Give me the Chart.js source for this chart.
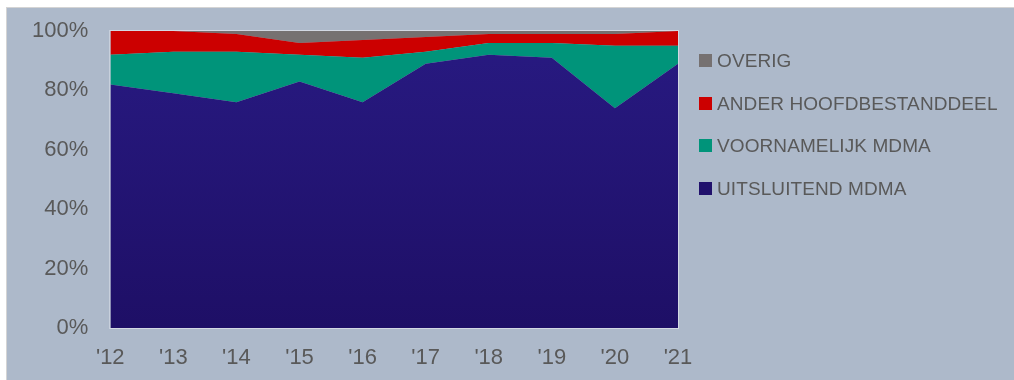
<!DOCTYPE html>
<html>
<head>
<meta charset="utf-8">
<script src="https://cdn.jsdelivr.net/npm/chart.js@4/dist/chart.umd.min.js"></script>
<style>
    body { margin: 0; background: #ffffff; font-family: 'Liberation Sans', Arial, sans-serif; }
    #bg {
        position: absolute; left: 6px; top: 7px; right: 0; bottom: 0;
        background: #adb9ca;
        border-top: 1px solid #d4d4d4;
        border-left: 1px solid #d4d4d4;
    }
    #chart { position: absolute; left: 0; top: 0; }
    #legend { position: absolute; left: 699px; top: 0; }
    .item { position: absolute; left: 0; white-space: nowrap; height: 20px; }
    .item span.box { position: absolute; left: 0; top: 3px; width: 13px; height: 13px; }
    .item span.txt {
        position: absolute; left: 18px; top: 0; line-height: 20px;
        font-size: 19px; color: #595959; letter-spacing: 0.1px;
    }
</style>
</head>
<body>
<div id="bg"></div>
<canvas id="chart" width="1014" height="380"></canvas>
<div id="legend"></div>
<script>
// ============================================
// DATA
// ============================================
const years = ["'12", "'13", "'14", "'15", "'16", "'17", "'18", "'19", "'20", "'21"];
const uitsluitend = [82, 79, 76, 83, 76, 89, 92, 91, 74, 89];
const voornamelijk = [10, 14, 17, 9, 15, 4, 4, 5, 21, 6];
const anderHoofd = [8, 7, 6, 4, 6, 5, 3, 3, 4, 5];
const overig = [0, 0, 1, 4, 3, 2, 1, 1, 1, 0];
const yTicks = [0, 20, 40, 60, 80, 100];

const textColor = '#595959';
const fontFamily = 'Liberation Sans, Arial, sans-serif';

// blue area has a soft vertical gradient
function blueFill(context) {
    const chart = context.chart;
    const area = chart.chartArea;
    if (!area) return '#231476';
    const g = chart.ctx.createLinearGradient(0, area.top, 0, area.bottom);
    g.addColorStop(0, '#281a82');
    g.addColorStop(1, '#1e0f66');
    return g;
}

// light frame round the plot area
const plotFrame = {
    id: 'plotFrame',
    afterDatasetsDraw(chart) {
        const { ctx, chartArea: a } = chart;
        ctx.save();
        ctx.strokeStyle = 'rgba(220,224,232,0.8)';
        ctx.lineWidth = 1;
        ctx.strokeRect(a.left - 0.5, a.top - 0.5, a.right - a.left + 1, a.bottom - a.top + 1);
        ctx.restore();
    }
};

const area = (label, data, color, legendColor, fill) => ({
    label: label,
    data: data,
    backgroundColor: color,
    legendColor: legendColor,
    borderWidth: 0,
    pointRadius: 0,
    fill: fill,
    tension: 0,
});

const chart = new Chart(document.getElementById('chart'), {
    type: 'line',
    data: {
        labels: years,
        datasets: [
            area('UITSLUITEND MDMA', uitsluitend, blueFill, '#21116c', 'origin'),
            area('VOORNAMELIJK MDMA', voornamelijk, '#00947a', '#00947a', '-1'),
            area('ANDER HOOFDBESTANDDEEL', anderHoofd, '#cc0000', '#cc0000', '-1'),
            area('OVERIG', overig, '#767171', '#767171', '-1'),
        ]
    },
    options: {
        responsive: false,
        animation: false,
        layout: { padding: { left: 10, right: 336, top: 31, bottom: 0 } },
        plugins: {
            tooltip: { enabled: false },
            legend: { display: false }
        },
        scales: {
            x: {
                grid: { display: false, drawTicks: false },
                border: { display: false },
                afterFit: axis => { axis.height = 52; },
                ticks: {
                    color: textColor,
                    padding: 17,
                    maxRotation: 0,
                    font: { family: fontFamily, size: 22 },
                }
            },
            y: {
                stacked: true,
                min: 0,
                max: 100,
                grid: { display: false, drawTicks: false },
                border: { display: false },
                afterBuildTicks: axis => { axis.ticks = yTicks.map(v => ({ value: v })); },
                afterFit: axis => { axis.paddingTop = 0; },
                ticks: {
                    color: textColor,
                    padding: 22,
                    font: { family: fontFamily, size: 22 },
                    callback: v => v + '%',
                }
            }
        }
    },
    plugins: [plotFrame]
});

// ============================================
// LEGEND (top row = last series)
// ============================================
const rowCenters = [61, 104, 146, 189];
const legendEl = document.getElementById('legend');
[...chart.data.datasets].reverse().forEach((ds, i) => {
    const row = document.createElement('div');
    row.className = 'item';
    row.style.top = (rowCenters[i] - 10) + 'px';
    row.innerHTML = `<span class="box" style="background:${ds.legendColor}"></span><span class="txt">${ds.label}</span>`;
    legendEl.appendChild(row);
});
</script>
</body>
</html>
